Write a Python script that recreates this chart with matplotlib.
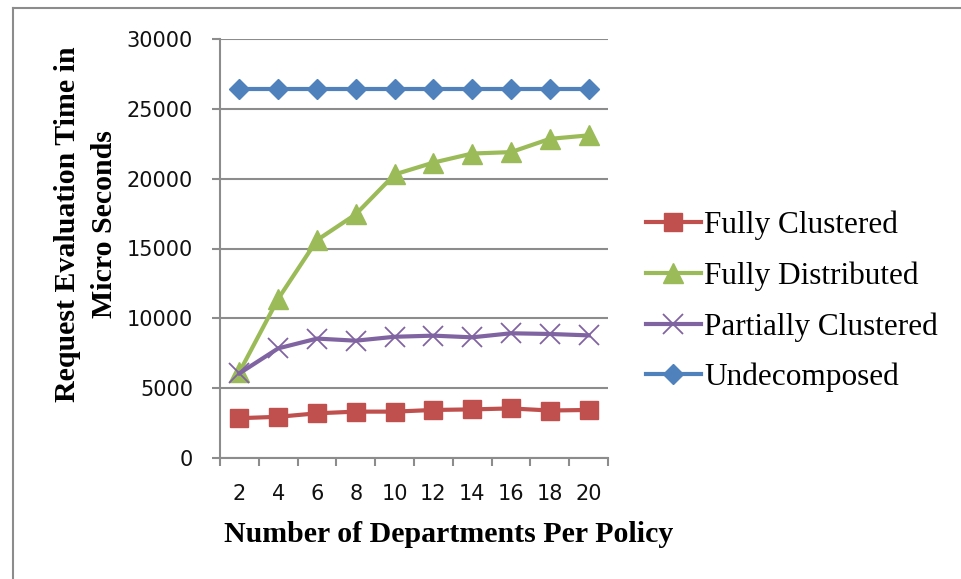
import matplotlib
matplotlib.use("Agg")
import matplotlib.pyplot as plt
from matplotlib.lines import Line2D
import numpy as np

departments = ["2", "4", "6", "8", "10", "12", "14", "16", "18", "20"]
fully_clustered = [2850, 2950, 3200, 3320, 3320, 3440, 3480, 3550, 3400, 3440]
fully_distributed = [6150, 11400, 15600, 17450, 20300, 21150, 21800, 21900, 22850, 23100]
partially_clustered = [6060, 7850, 8550, 8400, 8680, 8760, 8640, 8930, 8880, 8780]
undecomposed = [26400] * 10

series_names = ["Fully Clustered", "Fully Distributed", "Partially Clustered", "Undecomposed"]
colors = ["#C0504D", "#9BBB59", "#8064A2", "#4F81BD"]

W, H = 961, 579
fig = plt.figure(figsize=(W / 100, H / 100), dpi=100)
fig.patch.set_facecolor("white")

# outer frame
fig.add_artist(Line2D([13 / W, 13 / W], [0, 1 - 8 / H], color="#8C8C8C", lw=1.5, transform=fig.transFigure))
fig.add_artist(Line2D([13 / W, 1], [1 - 8 / H, 1 - 8 / H], color="#8C8C8C", lw=1.5, transform=fig.transFigure))

ax = fig.add_axes([220 / W, 1 - 458 / H, (608 - 220) / W, (458 - 39) / H])
x = np.arange(len(departments))

ax.plot(x, fully_clustered, color=colors[0], lw=3, marker="s", ms=13.5, mec=colors[0], label=series_names[0], zorder=3)
ax.plot(x, fully_distributed, color=colors[1], lw=3, marker="^", ms=14.5, mec=colors[1], label=series_names[1], zorder=3)
ax.plot(x, partially_clustered, color=colors[2], lw=3, marker="x", ms=14, mew=1.3, mec=colors[2], label=series_names[2], zorder=3)
ax.plot(x, undecomposed, color=colors[3], lw=3, marker="D", ms=10.5, mec=colors[3], label=series_names[3], zorder=3)

ax.set_xlim(-0.5, len(departments) - 0.5)
ax.set_ylim(0, 30000)
ax.set_yticks(np.arange(0, 30001, 5000))
ax.yaxis.grid(True, color="#8C8C8C", lw=1.5)
ax.set_axisbelow(True)

ax.set_xticks(x)
ax.set_xticklabels(departments)
ax.set_xticks(np.arange(-0.5, len(departments), 1), minor=True)
ax.tick_params(axis="x", which="major", length=0, pad=19, labelsize=15)
ax.tick_params(axis="x", which="minor", length=5.5, width=1.5, color="#8C8C8C", direction="out")
ax.tick_params(axis="y", length=5.5, width=1.5, color="#8C8C8C", pad=14, labelsize=15)
for lab in ax.get_xticklabels() + ax.get_yticklabels():
    lab.set_color("#111111")

for s in ["top", "right"]:
    ax.spines[s].set_visible(False)
for s in ["left", "bottom"]:
    ax.spines[s].set_color("#8C8C8C")
    ax.spines[s].set_linewidth(1.5)

serif = ["Liberation Serif", "DejaVu Serif"]
fig.text(449 / W, 1 - 535 / H, "Number of Departments Per Policy", ha="center", va="center",
         fontsize=21.5, fontweight="bold", family=serif)
fig.text(86 / W, 1 - 224 / H, "Request Evaluation Time in\nMicro Seconds", ha="center", va="center",
         rotation=90, fontsize=21.5, fontweight="bold", family=serif, linespacing=1.5, multialignment="center")

leg = ax.legend(loc="center left", bbox_to_anchor=(646 / W, 1 - 301.5 / H), bbox_transform=fig.transFigure,
                frameon=False, prop={"family": serif, "size": 22.5}, handlelength=1.75, handletextpad=0.12,
                labelspacing=0.68, borderpad=0, borderaxespad=0)

fig.savefig("out.png", dpi=100)
